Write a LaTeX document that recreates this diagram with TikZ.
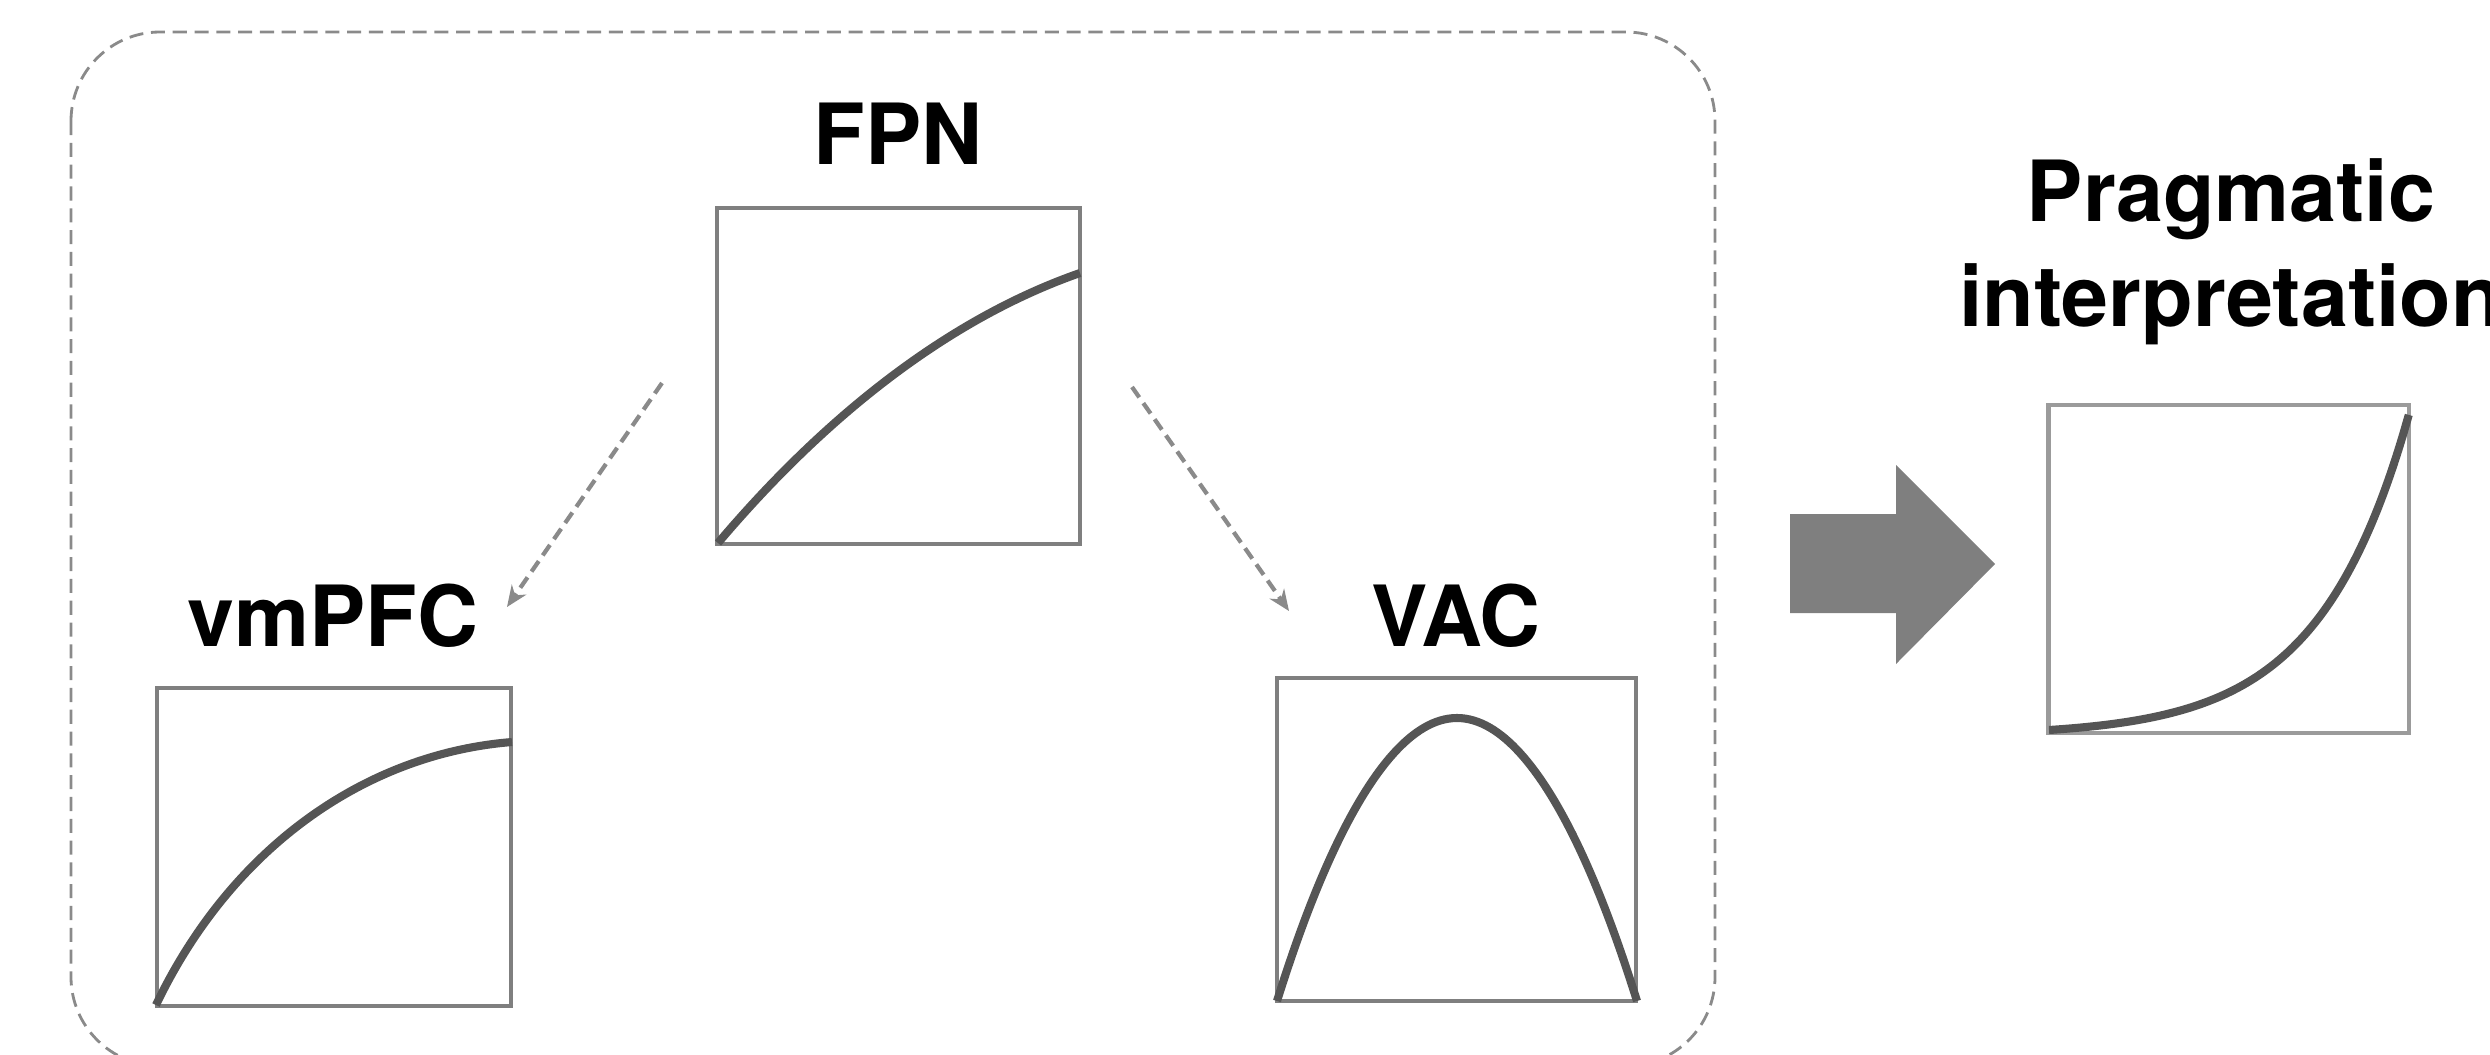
\documentclass[tikz,border=0pt]{standalone}
\usepackage{fontspec}
\setmainfont{TeX Gyre Heros}
\usetikzlibrary{arrows.meta}
\definecolor{boxgray}{HTML}{7F7F7F}
\definecolor{lightbox}{HTML}{9B9B9B}
\definecolor{curvegray}{HTML}{555555}
\definecolor{dashgray}{HTML}{8A8A8A}
\tikzset{
  panel/.style={draw=boxgray, line width=1.2pt, inner sep=0pt, outer sep=0pt},
  resp/.style={draw=curvegray, line width=2.3pt},
  title/.style={font=\fontsize{24}{29.6}\selectfont\bfseries, inner sep=0pt, anchor=base, align=center},
  flow/.style={draw=dashgray, line width=1.2pt, dash pattern=on 3.6pt off 2pt, -{Stealth[length=6pt,width=5pt]}},
}
\begin{document}
\begin{tikzpicture}[x=0.01cm, y=-0.01cm]
\useasboundingbox (0,0) rectangle (2490,1054);

\draw[draw=dashgray, line width=0.8pt, dash pattern=on 4pt off 2.2pt, rounded corners=0.89cm] (71,32) rectangle (1715,1066);

\node[panel, minimum width=3.63cm, minimum height=3.36cm] (fpn) at (898.5,376) {};
\node[panel, minimum width=3.54cm, minimum height=3.18cm] (vmpfc) at (334,847) {};
\node[panel, minimum width=3.59cm, minimum height=3.23cm] (vac) at (1456.5,839.5) {};
\node[panel, draw=lightbox, minimum width=3.60cm, minimum height=3.28cm] (pi) at (2228.5,569) {};

\node[title] (fpnlbl) at (898,164) {FPN};
\node[title] (vmpfclbl) at (333,646) {vmPFC};
\node[title] (vaclbl) at (1456,646) {VAC};
\node[title] (pilbl) at (2231,326) {Pragmatic\\interpretation};

\draw[resp] (718,543) .. controls (828,413) and (951,318) .. (1080,273);
\draw[resp] (156,1005) .. controls (230,850) and (363,754) .. (512,742);
\draw[resp] (1277,1001) parabola bend (1457,718) (1637,1001);
\draw[resp] plot[domain=0:1, samples=60, smooth] ({2049+360*\x},{730-5.8957*(exp(4*\x)-1)});

\coordinate (fpnout1) at (662,383);
\coordinate (vmpfcin) at (507,607);
\coordinate (fpnout2) at (1132,387);
\coordinate (vacin) at (1289,611);
\draw[flow] (fpnout1) -- (vmpfcin);
\draw[flow] (fpnout2) -- (vacin);

\fill[fill=boxgray] (1790,514) -- (1896,514) -- (1896,465) -- (1995,564) -- (1896,664) -- (1896,613) -- (1790,613) -- cycle;
\end{tikzpicture}
\end{document}
